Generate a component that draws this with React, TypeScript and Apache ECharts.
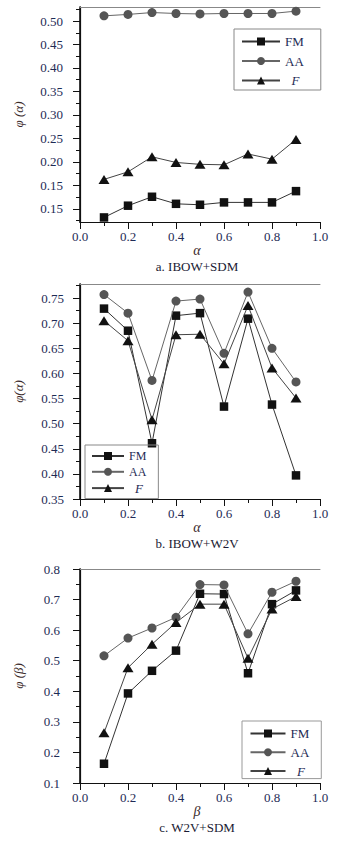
import React, { useEffect, useRef } from "react";
import * as echarts from "echarts";

// ---- data ----
const xValues = [0.1, 0.2, 0.3, 0.4, 0.5, 0.6, 0.7, 0.8, 0.9];
const seriesNames = ["FM", "AA", "F"];

// panel a: IBOW+SDM
const aFM = [0.082, 0.107, 0.126, 0.111, 0.109, 0.114, 0.114, 0.114, 0.138];
const aAA = [0.511, 0.514, 0.518, 0.516, 0.515, 0.516, 0.516, 0.516, 0.521];
const aF = [0.163, 0.179, 0.211, 0.199, 0.195, 0.194, 0.217, 0.206, 0.248];
const aYTicks = [0.1, 0.15, 0.2, 0.25, 0.3, 0.35, 0.4, 0.45, 0.5];
const aYLabels = ["0.15", "0.15", "0.20", "0.25", "0.30", "0.35", "0.40", "0.45", "0.50"];
const aYMinor = [0.075, 0.125, 0.175, 0.225, 0.275, 0.325, 0.375, 0.425, 0.475, 0.525];

// panel b: IBOW+W2V
const bFM = [0.729, 0.685, 0.461, 0.715, 0.72, 0.534, 0.709, 0.538, 0.397];
const bAA = [0.757, 0.72, 0.586, 0.744, 0.748, 0.64, 0.762, 0.65, 0.583];
const bF = [0.705, 0.665, 0.508, 0.677, 0.678, 0.619, 0.735, 0.611, 0.551];
const bYTicks = [0.35, 0.4, 0.45, 0.5, 0.55, 0.6, 0.65, 0.7, 0.75];
const bYMinor = [0.375, 0.425, 0.475, 0.525, 0.575, 0.625, 0.675, 0.725, 0.775];

// panel c: W2V+SDM
const cFM = [0.163, 0.393, 0.467, 0.533, 0.719, 0.718, 0.459, 0.685, 0.73];
const cAA = [0.516, 0.574, 0.607, 0.642, 0.749, 0.748, 0.588, 0.724, 0.76];
const cF = [0.264, 0.477, 0.554, 0.625, 0.685, 0.685, 0.508, 0.669, 0.71];
const cYTicks = [0.1, 0.2, 0.3, 0.4, 0.5, 0.6, 0.7, 0.8];
const cYMinor = [0.15, 0.25, 0.35, 0.45, 0.55, 0.65, 0.75];

const xTicks = [0, 0.2, 0.4, 0.6, 0.8, 1.0];
const xMinor = [0.1, 0.3, 0.5, 0.7, 0.9];

const captions = ["a. IBOW+SDM", "b. IBOW+W2V", "c. W2V+SDM"];
const xNames = ["α", "α", "β"];
const yNames = ["φ (α)", "φ(α)", "φ (β)"];

const SERIF = "'Liberation Serif', 'Times New Roman', serif";
const LABEL_COLOR = "#1e2b55";

export default function App() {
  const ref = useRef<HTMLDivElement>(null);
  useEffect(() => {
    if (!ref.current) return;
    const chart = echarts.init(ref.current, undefined, { renderer: "svg" });

    const panels = [
      { top: 7, height: 215, min: 0.0723, max: 0.5298, ticks: aYTicks, minor: aYMinor, labels: aYLabels, data: [aFM, aAA, aF], yMargin: 17, dec: 2 },
      { top: 284, height: 215, min: 0.35, max: 0.778, ticks: bYTicks, minor: bYMinor, labels: null, data: [bFM, bAA, bF], yMargin: 16, dec: 2 },
      { top: 569, height: 214, min: 0.1, max: 0.8, ticks: cYTicks, minor: cYMinor, labels: null, data: [cFM, cAA, cF], yMargin: 20, dec: 1 },
    ];

    const grid: any[] = [];
    const xAxis: any[] = [];
    const yAxis: any[] = [];
    const series: any[] = [];
    const graphic: any[] = [];

    const styles = [
      { symbol: "rect", symbolSize: 8.5, color: "#111", line: "#333" },
      { symbol: "circle", symbolSize: 9, color: "#555", line: "#666" },
      { symbol: "triangle", symbolSize: [11, 9], color: "#111", line: "#444" },
    ];

    panels.forEach((p, g) => {
      grid.push({ left: 80, right: 18, top: p.top, height: p.height });
      // bottom x axis
      xAxis.push({
        gridIndex: g, type: "value", min: 0, max: 1,
        axisLine: { show: true, lineStyle: { color: "#111", width: 1.2 } },
        axisTick: { show: true, customValues: xTicks, length: 7, lineStyle: { color: "#111" } },
        axisLabel: { customValues: xTicks, formatter: (v: number) => v.toFixed(1), margin: 8, fontFamily: SERIF, fontSize: 13, color: LABEL_COLOR },
        splitLine: { show: false },
      });
      // minor x ticks
      xAxis.push({
        gridIndex: g, type: "value", min: 0, max: 1, position: "bottom",
        axisLine: { show: false },
        axisTick: { show: true, customValues: xMinor, length: 4, lineStyle: { color: "#111" } },
        axisLabel: { show: false },
        splitLine: { show: false },
      });
      // top frame
      xAxis.push({
        gridIndex: g, type: "value", min: 0, max: 1, position: "top",
        axisLine: { show: true, lineStyle: { color: "#888", width: 1 } },
        axisTick: { show: false }, axisLabel: { show: false }, splitLine: { show: false },
      });
      // main y
      yAxis.push({
        gridIndex: g, type: "value", min: p.min, max: p.max, position: "left",
        name: yNames[g], nameLocation: "middle", nameGap: 55, nameRotate: 90,
        nameTextStyle: { fontFamily: SERIF, fontStyle: "italic", fontSize: 13, color: "#3b2b2b" },
        axisLine: { show: true, lineStyle: { color: "#111", width: 1.2 } },
        axisTick: { show: true, customValues: p.ticks, length: 7, lineStyle: { color: "#111" } },
        axisLabel: {
          customValues: p.ticks, margin: p.yMargin, fontFamily: SERIF, fontSize: 13, color: LABEL_COLOR,
          formatter: (v: number) => {
            if (p.labels) {
              const i = p.ticks.findIndex((t) => Math.abs(t - v) < 1e-6);
              return i >= 0 ? p.labels[i] : "";
            }
            return v.toFixed(p.dec);
          },
        },
        splitLine: { show: false },
      });
      // minor y ticks
      yAxis.push({
        gridIndex: g, type: "value", min: p.min, max: p.max, position: "left",
        axisLine: { show: false },
        axisTick: { show: true, customValues: p.minor, length: 4, lineStyle: { color: "#111" } },
        axisLabel: { show: false }, splitLine: { show: false },
      });
      // right frame
      yAxis.push({
        gridIndex: g, type: "value", min: p.min, max: p.max, position: "right",
        axisLine: { show: true, lineStyle: { color: "#111", width: 1.6 } },
        axisTick: { show: false }, axisLabel: { show: false }, splitLine: { show: false },
      });

      p.data.forEach((vals, s) => {
        const st = styles[s];
        series.push({
          type: "line", name: seriesNames[s], xAxisIndex: g * 3, yAxisIndex: g * 3,
          data: xValues.map((x, i) => [x, vals[i]]),
          symbol: st.symbol, symbolSize: st.symbolSize, showSymbol: true,
          itemStyle: { color: st.color },
          lineStyle: { color: st.line, width: 1 },
          z: 3 + s,
        });
      });

      const bottom = p.top + p.height;
      graphic.push({
        type: "text", x: 197, y: bottom + 28, z: 10,
        style: { text: xNames[g], font: `italic 14px ${SERIF}`, fill: "#3b2b2b", align: "center", verticalAlign: "middle" },
      });
      graphic.push({
        type: "text", x: 197, y: bottom + 44, z: 10,
        style: { text: captions[g], font: `13px ${SERIF}`, fill: "#1a1a33", align: "center", verticalAlign: "middle" },
      });
    });

    const legendText = {
      fontFamily: SERIF, fontSize: 13, color: LABEL_COLOR, lineHeight: 12,
      rich: { i: { fontStyle: "italic", fontFamily: SERIF, fontSize: 13, color: LABEL_COLOR, lineHeight: 12 } },
    };
    const fmt = (n: string) => (n === "F" ? "  {i|F}" : n);

    const legend = [
      {
        orient: "vertical", left: 234, top: 29, padding: [6, 17, 3, 7], itemWidth: 38, itemHeight: 10, itemGap: 6.5,
        borderColor: "#888", borderWidth: 1, data: seriesNames, textStyle: legendText, formatter: fmt, selectedMode: false,
      },
      {
        orient: "vertical", left: 85, top: 445, padding: [5, 12, 4, 6], itemWidth: 32, itemHeight: 10, itemGap: 3.8,
        borderColor: "#888", borderWidth: 1, data: seriesNames, textStyle: { ...legendText, fontSize: 12 }, formatter: fmt, selectedMode: false,
      },
      {
        orient: "vertical", left: 242, top: 721, padding: [6, 12, 1, 7.5], itemWidth: 35, itemHeight: 10, itemGap: 5.8,
        borderColor: "#999", borderWidth: 1, data: seriesNames, textStyle: legendText, formatter: fmt, selectedMode: false,
      },
    ];

    chart.setOption({
      animation: false,
      backgroundColor: "#fff",
      grid, xAxis, yAxis, series, legend, graphic,
    });
    return () => chart.dispose();
  }, []);
  return <div ref={ref} style={{ position: "fixed", left: 0, top: 0, width: 338, height: 841 }} />;
}
